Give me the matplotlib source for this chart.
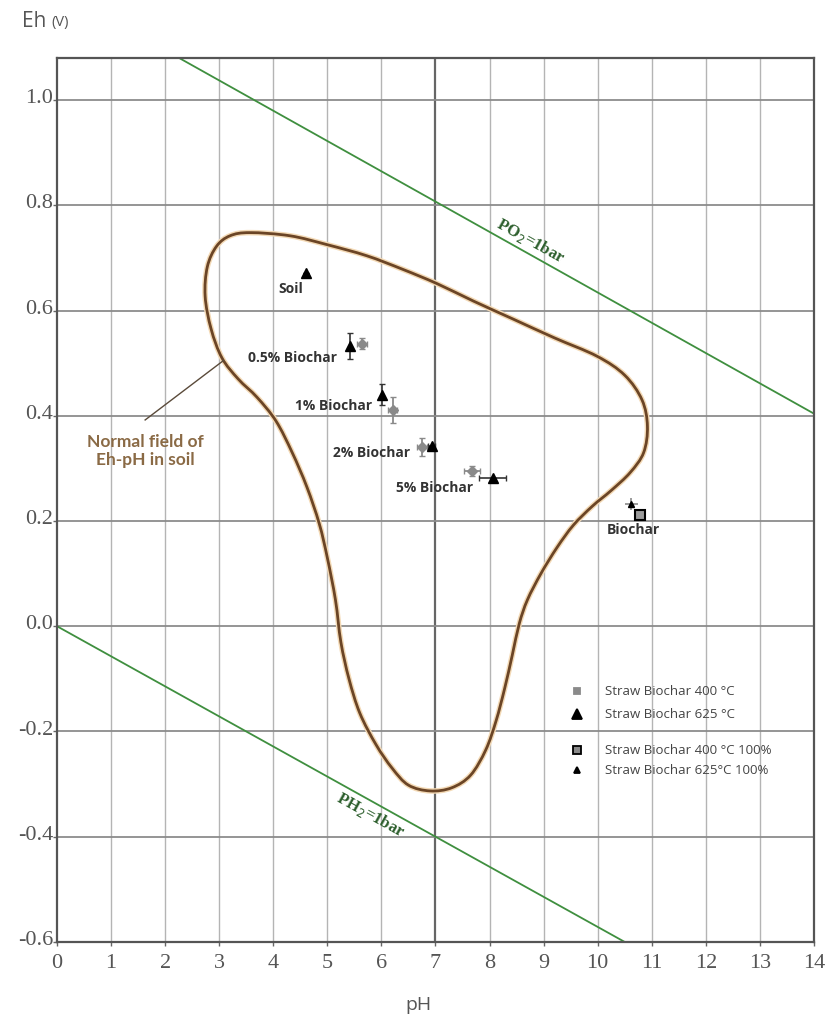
import numpy as np
import matplotlib
matplotlib.use("Agg")
import matplotlib.pyplot as plt
from matplotlib.path import Path
from matplotlib.patches import PathPatch

plt.rcParams['axes.unicode_minus'] = False

# outline of the "normal field" of Eh-pH in soil (pH, Eh), traced clockwise
field_ph = [3.57, 4.31, 5.00, 5.73, 6.40, 7.03, 7.70, 8.43, 9.20, 9.99, 10.50, 10.82,
            10.92, 10.85, 10.60, 10.25, 9.90, 9.55, 9.25, 8.95, 8.70, 8.55, 8.42, 8.28,
            8.12, 7.93, 7.65, 7.30, 6.90, 6.50, 6.20, 5.90, 5.60, 5.40, 5.25, 5.15,
            5.00, 4.85, 4.62, 4.35, 4.05, 3.70, 3.35, 3.05, 2.85, 2.74, 2.78, 2.95, 3.20]
field_eh = [0.748, 0.742, 0.725, 0.704, 0.678, 0.651, 0.618, 0.584, 0.548, 0.513, 0.477, 0.430,
            0.380, 0.330, 0.292, 0.258, 0.228, 0.192, 0.150, 0.100, 0.050, 0.005, -0.055, -0.118,
            -0.180, -0.235, -0.283, -0.307, -0.313, -0.302, -0.270, -0.225, -0.165, -0.100, -0.030, 0.050,
            0.130, 0.195, 0.265, 0.330, 0.390, 0.435, 0.470, 0.510, 0.565, 0.627, 0.683, 0.722, 0.742]

# water stability limits
o2_ph = [2.17, 14.0]
o2_eh = [1.085, 0.404]
h2_ph = [0.0, 10.5]
h2_eh = [0.0, -0.6]

# measured points
labels = ["Soil", "0.5% Biochar", "1% Biochar", "2% Biochar", "5% Biochar"]
t625_ph = [4.60, 5.42, 6.01, 6.93, 8.06]
t625_eh = [0.672, 0.533, 0.440, 0.343, 0.282]
t625_xerr = [0.0, 0.0, 0.0, 0.06, 0.25]
t625_yerr = [0.0, 0.025, 0.02, 0.0, 0.0]

t400_ph = [5.64, 6.21, 6.75, 7.68]
t400_eh = [0.537, 0.411, 0.341, 0.295]
t400_xerr = [0.10, 0.08, 0.10, 0.15]
t400_yerr = [0.01, 0.025, 0.017, 0.01]

# pure biochar
bc400_ph, bc400_eh = 10.78, 0.211
bc625_ph, bc625_eh = 10.62, 0.232

# label positions (pH, Eh) for the text next to the points
lab_ph = [4.55, 5.18, 5.83, 6.53, 7.70]
lab_eh = [0.640, 0.510, 0.418, 0.330, 0.262]

yticks = [-0.6, -0.4, -0.2, 0.0, 0.2, 0.4, 0.6, 0.8, 1.0]


def smooth_closed(xs, ys):
    # Catmull-Rom outline turned into cubic Bezier segments
    p = np.column_stack([xs, ys])
    n = len(p)
    verts = [p[0]]
    codes = [Path.MOVETO]
    for i in range(n):
        p0, p1, p2, p3 = p[i - 1], p[i], p[(i + 1) % n], p[(i + 2) % n]
        verts += [p1 + (p2 - p0) / 6, p2 - (p3 - p1) / 6, p2]
        codes += [Path.CURVE4] * 3
    return Path(verts, codes)


fig = plt.figure(figsize=(8.31, 10.18), dpi=100)
ax = fig.add_axes([0.0686, 0.0747, 0.9109, 0.8684])
ax.set_xlim(0, 14)
ax.set_ylim(-0.6, 1.08)

# grid
for x in range(1, 14):
    ax.axvline(x, color='#666666' if x == 7 else '#b4b4b4', lw=1.6 if x == 7 else 1.0, zorder=0)
for y in yticks[1:]:
    ax.axhline(y, color='#8c8c8c', lw=1.3, zorder=0)

ax.set_xticks(range(15))
ax.set_yticks(yticks)
ax.set_yticklabels([])
ax.tick_params(length=3, width=1, color='#666666', labelcolor='#555555', pad=2)
for lab in ax.get_xticklabels():
    lab.set_family('Liberation Serif')
    lab.set_fontsize(16)
ax.tick_params(axis='x', pad=6)
# y labels sit on their grid lines
for v in yticks:
    ax.text(-0.005, v - 0.006, f"{v:.1f}", transform=ax.get_yaxis_transform(), ha='right',
            va='baseline', family='Liberation Serif', fontsize=16, color='#555555')
for s in ax.spines.values():
    s.set_color('#555555')
    s.set_linewidth(1.6)

# O2 / H2 lines
ax.plot(o2_ph, o2_eh, color='#3f8f3f', lw=1.3, zorder=2)
ax.plot(h2_ph, h2_eh, color='#3f8f3f', lw=1.3, zorder=2)
ax.text(8.75, 0.733, "PO$_2$=1bar", rotation=-29, color='#2c5e2c', ha='center', va='center',
        family='Liberation Serif', fontweight='bold', fontsize=12, zorder=3)
ax.text(5.80, -0.358, "PH$_2$=1bar", rotation=-29, color='#2c5e2c', ha='center', va='center',
        family='Liberation Serif', fontweight='bold', fontsize=12, zorder=3)

# soil field
ax.add_patch(PathPatch(smooth_closed(field_ph, field_eh), facecolor='none',
                       edgecolor='#f3d9b5', lw=4.0, zorder=3))
ax.add_patch(PathPatch(smooth_closed(field_ph, field_eh), facecolor='none',
                       edgecolor='#6b4526', lw=2.0, zorder=3))
ax.plot([1.63, 3.08], [0.392, 0.505], color='#5a4a3a', lw=1.0, zorder=3)
ax.text(1.63, 0.333, "Normal field of\nEh-pH in soil", ha='center', va='center',
        color='#8a6a45', fontweight='bold', family='Lato', fontsize=12.5, linespacing=1.15)

# data points
ax.errorbar(t400_ph, t400_eh, xerr=t400_xerr, yerr=t400_yerr, fmt='D', color='#8a8a8a',
            ms=5, elinewidth=1.3, capsize=2, zorder=4)
ax.errorbar(t625_ph, t625_eh, xerr=t625_xerr, yerr=t625_yerr, fmt='^', color='black',
            ecolor='#333333', ms=7.5, elinewidth=1.2, capsize=2, zorder=5)
ax.errorbar([bc625_ph], [bc625_eh], xerr=[0.12], yerr=[0.012], fmt='^', color='black',
            ecolor='#8a8a8a', ms=4.5, elinewidth=1.2, capsize=0, zorder=5)
ax.plot([bc400_ph], [bc400_eh], 's', mfc='#9a9a9a', mec='black', mew=1.5, ms=6.5, zorder=5)

for name, px, py in zip(labels, lab_ph, lab_eh):
    ax.text(px, py, name, ha='right', va='center', fontsize=10, fontweight='bold',
            family='Open Sans', color='#333333', zorder=6)
ax.text(bc400_ph - 0.12, 0.183, "Biochar", ha='center', va='center', fontsize=10,
        fontweight='bold', family='Open Sans', color='#333333', zorder=6)

# legend drawn by hand
leg_x, txt_x = 0.687, 0.724
rows = [(0.2836, 's', '#8a8a8a', '#8a8a8a', 5, "Straw Biochar 400 °C"),
        (0.2576, '^', 'black', 'black', 7, "Straw Biochar 625 °C"),
        (0.2170, 's', '#8a8a8a', 'black', 6, "Straw Biochar 400 °C 100%"),
        (0.1944, '^', 'black', 'black', 4.5, "Straw Biochar 625°C 100%")]
for y, m, fc, ec, ms, txt in rows:
    ax.plot([leg_x], [y], m, mfc=fc, mec=ec, mew=1.3, ms=ms, transform=ax.transAxes, zorder=6)
    ax.text(txt_x, y, txt, transform=ax.transAxes, va='center', ha='left',
            fontsize=9.5, family='Open Sans', color='#444444')

fig.text(0.026, 0.979, "Eh", fontsize=15, family='Open Sans', color='#555555', va='center')
fig.text(0.062, 0.978, "(V)", fontsize=10.5, family='Open Sans', color='#555555', va='center')
fig.text(0.503, 0.013, "pH", fontsize=14, family='Open Sans', color='#555555', ha='center', va='center')

fig.savefig("out.png", dpi=100)
